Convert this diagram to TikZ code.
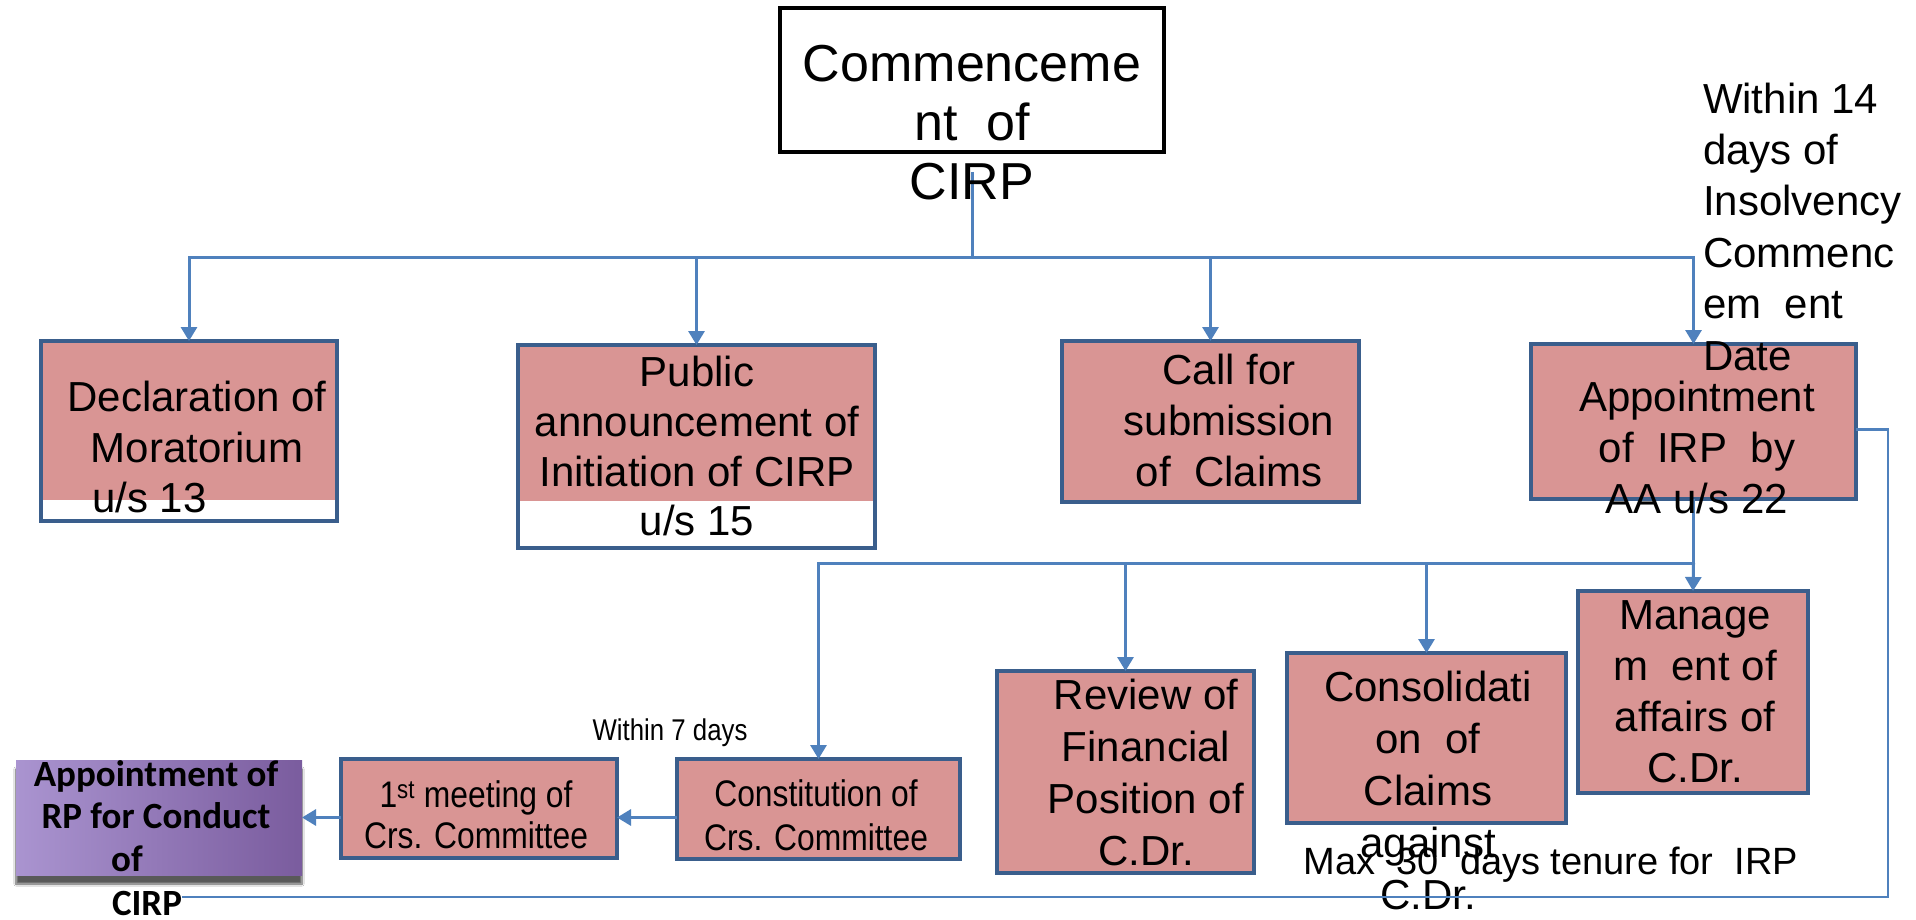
\documentclass[tikz,border=0pt]{standalone}
\usepackage{fontspec}
\setmainfont{Liberation Sans}
\newfontfamily\narrowfont[FakeStretch=0.86]{Liberation Sans}
\newfontfamily\calibfont{Carlito}
\usetikzlibrary{arrows.meta,shadows.blur}

\definecolor{pinkfill}{RGB}{217,149,148}
\definecolor{boxline}{RGB}{58,94,140}
\definecolor{connline}{RGB}{79,129,189}
\definecolor{purpleL}{RGB}{170,148,208}
\definecolor{purpleR}{RGB}{122,92,158}

\newcommand\setfs[2]{\fontsize{#1}{#2}\selectfont}

\begin{document}
\begin{tikzpicture}[x=1pt,y=-1pt,
  box/.style={rectangle, draw=boxline, line width=4.5pt, fill=pinkfill,
              inner sep=0pt, outer sep=0pt},
  lbl/.style={align=center, inner sep=0pt, outer sep=0pt, text=black},
  body/.style={lbl, font=\setfs{42}{51}},
  conn/.style={draw=connline, line width=3pt},
  arr/.style={-{Triangle[width=16pt,length=14pt]}},
]
\useasboundingbox[fill=white] (0,0) rectangle (1916,920);

% ---- top node
\node[rectangle, draw=black, line width=4pt, inner sep=0pt, outer sep=0pt,
      minimum width=384pt, minimum height=144pt] (start) at (972,80) {};

% ---- first row of boxes
\node[box, fill=white, minimum width=296pt, minimum height=180pt,
      path picture={\fill[pinkfill] (path picture bounding box.north west)
        rectangle ([yshift=21pt]path picture bounding box.south east);}]
      (decl) at (189,431) {};
\draw[boxline, line width=4.5pt] (decl.north west) rectangle (decl.south east);

\node[box, fill=white, minimum width=357pt, minimum height=203pt,
      path picture={\fill[pinkfill] (path picture bounding box.north west)
        rectangle ([yshift=47pt]path picture bounding box.south east);}]
      (public) at (696.5,446.5) {};
\draw[boxline, line width=4.5pt] (public.north west) rectangle (public.south east);

\node[box, minimum width=297pt, minimum height=161pt] (call) at (1210.5,421.5) {};
\node[box, minimum width=325pt, minimum height=155pt] (appt) at (1693.5,421.5) {};

% ---- second row of boxes
\node[box, minimum width=230pt, minimum height=202pt] (manage) at (1693,692) {};
\node[box, minimum width=279pt, minimum height=170pt] (consol) at (1426.5,738) {};
\node[box, minimum width=257pt, minimum height=202pt] (review) at (1125.5,772) {};
\node[box, minimum width=283pt, minimum height=100pt] (constit) at (818.5,809) {};
\node[box, minimum width=276pt, minimum height=99pt] (meetone) at (479,808.5) {};

% ---- resolution professional box
\node[rectangle, inner sep=0pt, outer sep=0pt, left color=purpleL, right color=purpleR,
      minimum width=286pt, minimum height=115pt,
      blur shadow={shadow xshift=0pt, shadow yshift=-9pt, shadow opacity=65, shadow blur steps=8}]
      (rp) at (159,817.5) {};

% ---- connectors
\coordinate (stem) at (972,172);
\coordinate (hub) at (972,257);
\draw[conn] (stem) -- (hub);
\draw[conn,arr] (hub) -| (decl.north);
\draw[conn,arr] (hub) -| (public.north);
\draw[conn,arr] (hub) -| (call.north);
\draw[conn,arr] (hub) -| (appt.north);

\coordinate (hubtwo) at (1693.5,563);
\draw[conn] (appt.south) -- (hubtwo);
\draw[conn,arr] (hubtwo) -- (manage.north);
\draw[conn,arr] (hubtwo) -| (consol.north);
\draw[conn,arr] (hubtwo) -| (review.north);
\draw[conn,arr] (hubtwo) -| (constit.north);

\draw[conn,arr] (constit.west |- rp.east) -- (meetone.east |- rp.east);
\draw[conn,arr] (meetone.west |- rp.east) -- (rp.east);

% ---- texts
\node[lbl, font=\setfs{52}{59}] (starttxt) at (972,122.7)
  {Commenceme\\nt~~of\\CIRP};

\node[body] (decltxt) at (197,421.5) {Declaration of\\Moratorium};
\node[body, anchor=west] (declsec) at (92,497) {u/s 13};
\node[body, font=\setfs{42}{49.7}] (publictxt) at (697,446.2)
  {Public\\announcement of\\Initiation of CIRP\\u/s 15};
\node[body] (calltxt) at (1229,420.7) {Call for\\submission\\of~~Claims};
\node[body] (appttxt) at (1697,447.7) {Appointment\\of~~IRP~~by\\AA u/s 22};
\node[body, align=left, anchor=west, font=\setfs{42}{51.4}] (within) at (1703,226.5)
  {Within 14\\days of\\Insolvency\\Commenc\\em~~ent\\Date};

\node[body] (managetxt) at (1695,692) {Manage\\m~~ent of\\affairs of\\C.Dr.};
\node[body, font=\setfs{42}{52}] (consoltxt) at (1428,790)
  {Consolidati\\on~~of\\Claims\\against\\C.Dr.};
\node[body, font=\setfs{42}{51.7}] (reviewtxt) at (1146,772.5)
  {Review of\\Financial\\Position of\\C.Dr.};
\node[lbl, font=\narrowfont\setfs{37}{44}] (constittxt) at (816,815)
  {Constitution of\\Crs. Committee};
\node[lbl, font=\narrowfont\setfs{37}{41}] (meetonetxt) at (476,815)
  {1\textsuperscript{st} meeting of\\Crs. Committee};

\node[lbl, font=\calibfont\bfseries\setfs{37}{42.5}] (rptxt) at (156,816)
  {Appointment of\\RP for Conduct\\of\makebox[58pt]{}};
\node[lbl, font=\calibfont\bfseries\setfs{37}{42.5}, anchor=base] (rpcirp) at (147,915) {CIRP};

\node[lbl, font=\narrowfont\setfs{30}{36}] (sevendays) at (670,733) {Within 7 days};
\node[lbl, font=\setfs{38}{44}] (maxdays) at (1551,865) {Max~~30~~days tenure for~~IRP};

% ---- return line from the interim appointment to the RP box
\coordinate (loop) at (1888,897);
\draw[conn, line width=2.5pt] ([yshift=-8pt]appt.east) -| (loop) -- (rpcirp.east |- loop);
\end{tikzpicture}
\end{document}
